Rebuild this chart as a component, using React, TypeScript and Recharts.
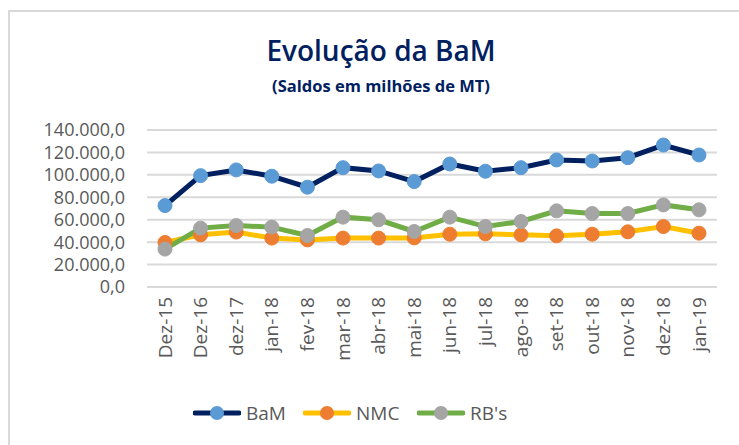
import React from 'react';
import { LineChart, Line, XAxis, YAxis, CartesianGrid } from 'recharts';

const categories = ['Dez-15', 'Dez-16', 'dez-17', 'jan-18', 'fev-18', 'mar-18', 'abr-18', 'mai-18', 'jun-18', 'jul-18', 'ago-18', 'set-18', 'out-18', 'nov-18', 'dez-18', 'jan-19'];
const bam = [72600, 99300, 104400, 98800, 89000, 106400, 103500, 94000, 109700, 103200, 106400, 113300, 112400, 115300, 126600, 117700];
const nmc = [39700, 46500, 49000, 43600, 42000, 43600, 43600, 43800, 47100, 47400, 46500, 45600, 47100, 49200, 53900, 48000];
const rbs = [33800, 52500, 54800, 53400, 45900, 62300, 59900, 49500, 62300, 53900, 58400, 67900, 65500, 65500, 73200, 68800];
const yTicks = [0, 20000, 40000, 60000, 80000, 100000, 120000, 140000];

const data = categories.map((c, i) => ({ cat: c, BaM: bam[i], NMC: nmc[i], RBs: rbs[i] }));

const FONT = '"Open Sans", "Noto Sans", sans-serif';
const TICK = '#595959';

const fmt = (v: number) => Math.round(v).toString().replace(/\B(?=(\d{3})+(?!\d))/g, '.') + ',0';

const XTick = (props: any) => {
  const { x, y, payload } = props;
  return (
    <g transform={`translate(${x},${y + 10}) rotate(-90)`}>
      <text textAnchor="end" dy="0.35em" fill={TICK} fontSize={19} fontFamily={FONT}>
        {payload.value}
      </text>
    </g>
  );
};

const legendItems = [
  { name: 'BaM', line: '#002060', dot: '#5b9bd5', x: 193 },
  { name: 'NMC', line: '#ffc000', dot: '#ed7d31', x: 303 },
  { name: "RB's", line: '#70ad47', dot: '#a5a5a5', x: 417 },
];

export default function App() {
  return (
    <div style={{ position: 'absolute', left: 0, top: 0, width: 739, height: 445, background: '#fff', overflow: 'hidden' }}>
      <div style={{ position: 'absolute', left: 8, top: 10, width: 740, height: 440, borderTop: '2px solid #d9d9d9', borderLeft: '2px solid #d9d9d9' }} />
      <div style={{ position: 'absolute', left: 0, width: 762, top: 31, textAlign: 'center', fontFamily: FONT, fontSize: 28, fontWeight: 600, color: '#002060', lineHeight: '38px' }}>
        Evolução da BaM
      </div>
      <div style={{ position: 'absolute', left: 0, width: 762, top: 74, textAlign: 'center', fontFamily: FONT, fontSize: 16.5, fontWeight: 700, color: '#002060', lineHeight: '24px' }}>
        (Saldos em milhões de MT)
      </div>
      <div style={{ position: 'absolute', left: 0, top: 0 }}>
        <LineChart width={739} height={445} data={data} margin={{ top: 130, right: 22, left: 0, bottom: 0 }}>
          <CartesianGrid vertical={false} stroke="#d9d9d9" strokeWidth={2} />
          <XAxis
            dataKey="cat"
            height={158}
            axisLine={false}
            tickLine={false}
            tickSize={0}
            tickMargin={0}
            interval={0}
            padding={{ left: 18, right: 18 }}
            tick={<XTick />}
          />
          <YAxis
            width={147}
            domain={[0, 140000]}
            ticks={yTicks}
            interval={0}
            axisLine={false}
            tickLine={false}
            tickSize={0}
            tickMargin={22}
            tickFormatter={fmt}
            tick={{ fill: TICK, fontSize: 18, fontFamily: FONT }}
          />
          <Line dataKey="NMC" stroke="#ffc000" strokeWidth={5} dot={{ r: 7, fill: '#ed7d31', stroke: '#ed7d31', strokeWidth: 1 }} isAnimationActive={false} />
          <Line dataKey="RBs" stroke="#70ad47" strokeWidth={5} dot={{ r: 7, fill: '#a5a5a5', stroke: '#a5a5a5', strokeWidth: 1 }} isAnimationActive={false} />
          <Line dataKey="BaM" stroke="#002060" strokeWidth={5} dot={{ r: 7, fill: '#5b9bd5', stroke: '#5b9bd5', strokeWidth: 1 }} isAnimationActive={false} />
        </LineChart>
      </div>
      {legendItems.map((it) => (
        <div key={it.name} style={{ position: 'absolute', left: it.x, top: 400, height: 26, display: 'flex', alignItems: 'center' }}>
          <svg width={48} height={26}>
            <line x1={2} y1={13} x2={46} y2={13} stroke={it.line} strokeWidth={5} strokeLinecap="round" />
            <circle cx={24} cy={13} r={7} fill={it.dot} />
          </svg>
          <span style={{ marginLeft: 5, fontFamily: FONT, fontSize: 19, color: TICK, lineHeight: '26px' }}>{it.name}</span>
        </div>
      ))}
    </div>
  );
}
